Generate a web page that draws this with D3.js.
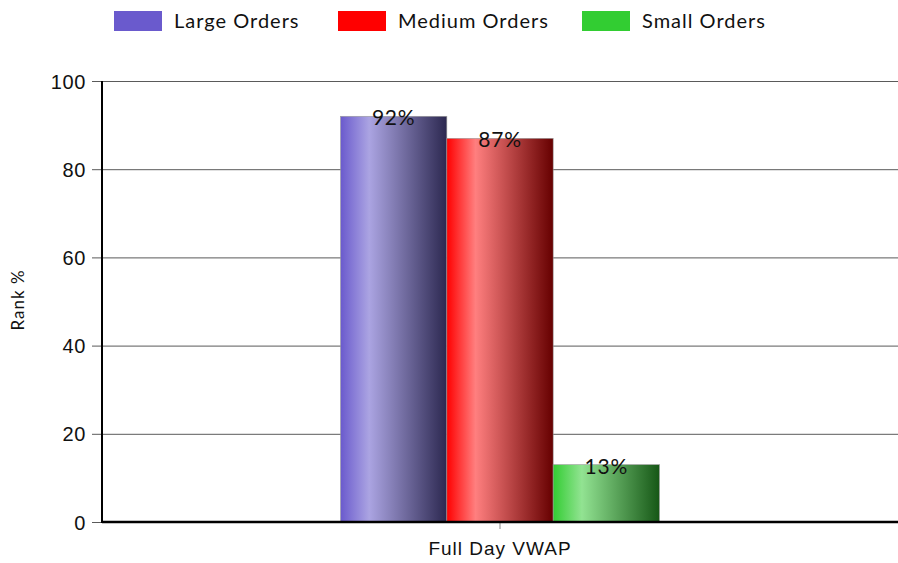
<!DOCTYPE html>
<html>
<head>
<meta charset="utf-8">
<script src="https://cdn.jsdelivr.net/npm/d3@7"></script>
<style>
body { margin: 0; background: #fff; }
svg { font-family: Lato, "Open Sans", sans-serif; }
</style>
</head>
<body>
<div id="chartdiv"></div>
<script>
var categories = ['Full Day VWAP'];
var seriesNames = ['Large Orders', 'Medium Orders', 'Small Orders'];
var largeOrders = [92];
var mediumOrders = [87];
var smallOrders = [13];
var yTicks = [0, 20, 40, 60, 80, 100];

var seriesValues = [largeOrders, mediumOrders, smallOrders];
var colors = [
  {base: '#6a5acd', light: '#aba4e2', dark: '#2c2850'},
  {base: '#ff0000', light: '#ff7f7f', dark: '#660000'},
  {base: '#32cd32', light: '#92e392', dark: '#165716'}
];

var corewidth = 898, coreheight = 563;
var margin = {top: 81, right: 0, bottom: 41, left: 102},
  width = corewidth - margin.left - margin.right,
  height = coreheight - margin.top - margin.bottom;

var svg0 = d3.select('#chartdiv').append('svg')
  .attr('width', corewidth).attr('height', coreheight);

var defs = svg0.append('defs');
colors.forEach(function(c, i) {
  var g = defs.append('linearGradient').attr('id', 'grad' + i)
    .attr('x1', '0%').attr('x2', '100%').attr('y1', '0%').attr('y2', '0%');
  g.append('stop').attr('offset', '0%').attr('stop-color', c.base);
  g.append('stop').attr('offset', '27%').attr('stop-color', c.light);
  g.append('stop').attr('offset', '100%').attr('stop-color', c.dark);
});

var svg = svg0.append('g')
  .attr('transform', 'translate(' + margin.left + ',' + margin.top + ')');

var x0 = d3.scaleBand().domain(categories).range([0, width]).paddingInner(0).paddingOuter(0.748);
var x1 = d3.scaleBand().domain(seriesNames).range([0, x0.bandwidth()]).padding(0);
var y = d3.scaleLinear().domain([0, 100]).range([height, 0]);

// grid
svg.append('g').selectAll('line').data(yTicks).enter().append('line')
  .attr('x1', 0).attr('x2', width)
  .attr('y1', function(d) { return y(d) + 0.5; })
  .attr('y2', function(d) { return y(d) + 0.5; })
  .style('stroke', '#5a5a5a').style('stroke-width', 1);

// y axis
var yAxis = svg.append('g')
  .call(d3.axisLeft(y).tickValues(yTicks).tickSize(10).tickPadding(6));
yAxis.select('.domain').remove();
yAxis.selectAll('line').style('stroke', '#5a5a5a');
yAxis.selectAll('text').style('font-size', '20px').style('letter-spacing', '0.6px')
  .style('fill', '#111').attr('dy', '0.35em');

// bars
var groups = svg.selectAll('.grp').data(categories).enter().append('g')
  .attr('class', 'grp')
  .attr('transform', function(d) { return 'translate(' + x0(d) + ',0)'; });

groups.selectAll('rect').data(function(d, ci) {
  return seriesNames.map(function(s, si) { return {s: s, si: si, v: seriesValues[si][ci]}; });
}).enter().append('rect')
  .attr('x', function(d) { return x1(d.s); })
  .attr('y', function(d) { return y(d.v); })
  .attr('width', x1.bandwidth())
  .attr('height', function(d) { return height - y(d.v); })
  .style('fill', function(d) { return 'url(#grad' + d.si + ')'; })
  .style('stroke', '#9a9a9a').style('stroke-width', 0.6);

groups.selectAll('.val').data(function(d, ci) {
  return seriesNames.map(function(s, si) { return {s: s, si: si, v: seriesValues[si][ci]}; });
}).enter().append('text')
  .attr('class', 'val')
  .attr('x', function(d) { return x1(d.s) + x1.bandwidth() / 2; })
  .attr('y', function(d) { return y(d.v) + 9; })
  .attr('text-anchor', 'middle')
  .style('font-size', '21px').style('letter-spacing', '0.8px').style('fill', '#111')
  .text(function(d) { return d.v + '%'; });

// x axis
var xAxis = svg.append('g').attr('transform', 'translate(0,' + height + ')')
  .call(d3.axisBottom(x0).tickSize(7).tickPadding(13));
xAxis.select('.domain').remove();
xAxis.selectAll('line').style('stroke', '#888');
xAxis.selectAll('text').style('font-size', '19px').style('letter-spacing', '1px').style('fill', '#111');

svg.append('line').attr('x1', 0).attr('x2', width).attr('y1', height).attr('y2', height)
  .style('stroke', '#000').style('stroke-width', 2.5);
svg.append('line').attr('x1', 0).attr('x2', 0).attr('y1', 0).attr('y2', height + 1)
  .style('stroke', '#000').style('stroke-width', 2);

// y title
svg0.append('text')
  .attr('transform', 'translate(24,300) rotate(-90)')
  .attr('text-anchor', 'middle')
  .style('font-size', '17px').style('letter-spacing', '1px').style('fill', '#111')
  .text('Rank %');

// legend
var legendX = [114, 338, 582];
var leg = svg0.append('g').selectAll('g').data(seriesNames).enter().append('g')
  .attr('transform', function(d, i) { return 'translate(' + legendX[i] + ',11)'; });
leg.append('rect').attr('width', 48).attr('height', 20)
  .style('fill', function(d, i) { return colors[i].base; });
leg.append('text').attr('x', 60).attr('y', 10).attr('dy', '0.35em')
  .style('font-size', '20px').style('letter-spacing', '1px').style('fill', '#111')
  .text(function(d) { return d; });
</script>
</body>
</html>
